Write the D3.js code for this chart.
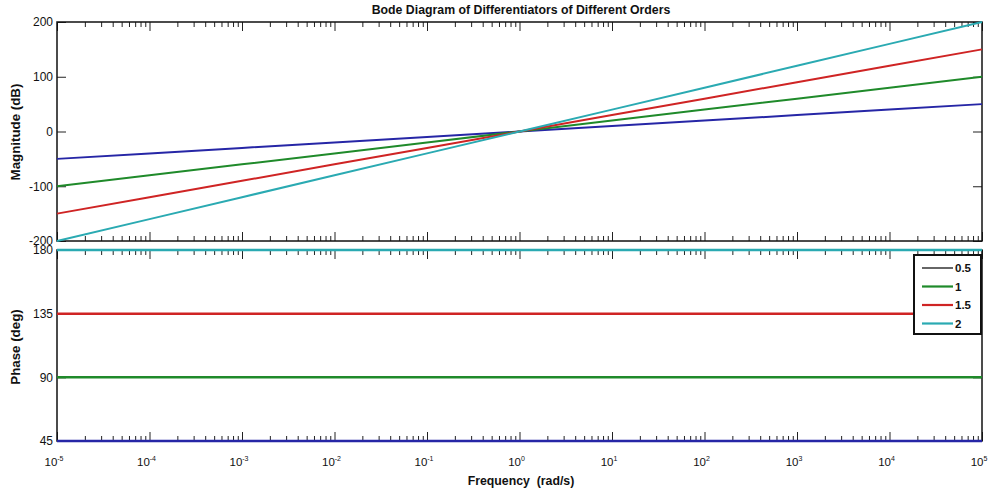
<!DOCTYPE html>
<html>
<head>
<meta charset="utf-8">
<script src="https://cdn.jsdelivr.net/npm/d3@7"></script>
<style>
  html, body { margin: 0; padding: 0; background: #fff; }
  svg { display: block; font-family: "Liberation Sans", Arial, sans-serif; }
</style>
</head>
<body>
<svg id="chart" width="990" height="494"></svg>
<script>
// ---- data ----
const orders = ["0.5", "1", "1.5", "2"];
const frequencies = [1e-5, 1e-4, 1e-3, 1e-2, 1e-1, 1e0, 1e1, 1e2, 1e3, 1e4, 1e5];
const magOrder05 = [-50, -40, -30, -20, -10, 0, 10, 20, 30, 40, 50];
const magOrder1  = [-100, -80, -60, -40, -20, 0, 20, 40, 60, 80, 100];
const magOrder15 = [-150, -120, -90, -60, -30, 0, 30, 60, 90, 120, 150];
const magOrder2  = [-200, -160, -120, -80, -40, 0, 40, 80, 120, 160, 200];
const phaseValues = [45, 90, 135, 180];
const magTicks = [-200, -100, 0, 100, 200];
const phaseTicks = [45, 90, 135, 180];
const decadeExponents = [-5, -4, -3, -2, -1, 0, 1, 2, 3, 4, 5];

const lineColors = ["#2626a6", "#1f8a2a", "#cf2424", "#2aaab2"];
const legendColors = ["#000000", "#1f8a2a", "#cf2424", "#2aaab2"];
const magSeries = [magOrder05, magOrder1, magOrder15, magOrder2];

const svg = d3.select("#chart");
const L = 57, R = 982;
const magTop = 22, magBot = 241, phTop = 250, phBot = 441;

const x = d3.scaleLog().domain([1e-5, 1e5]).range([L, R]);
const yMag = d3.scaleLinear().domain([-200, 200]).range([magBot, magTop]);
const yPh = d3.scaleLinear().domain([45, 180]).range([phBot, phTop]);

const majorX = decadeExponents.map(e => Math.pow(10, e));
const minorX = [];
decadeExponents.slice(0, -1).forEach(e => { for (let k = 2; k <= 9; k++) minorX.push(k * Math.pow(10, e)); });

function panel(yScale, top, bot, ticks) {
  const g = svg.append("g");
  g.append("g").attr("transform", `translate(0,${top})`)
    .call(d3.axisTop(x).tickValues(minorX).tickSize(-5).tickFormat(""));
  g.append("g").attr("transform", `translate(0,${bot})`)
    .call(d3.axisBottom(x).tickValues(minorX).tickSize(-5).tickFormat(""));
  g.append("g").attr("transform", `translate(0,${top})`)
    .call(d3.axisTop(x).tickValues(majorX).tickSize(-9).tickFormat(""));
  g.append("g").attr("transform", `translate(0,${bot})`)
    .call(d3.axisBottom(x).tickValues(majorX).tickSize(-9).tickFormat(""));
  g.append("g").attr("transform", `translate(${L},0)`)
    .call(d3.axisLeft(yScale).tickValues(ticks).tickSize(-9).tickPadding(4).tickFormat(d => String(d)))
    .call(a => a.selectAll("text").attr("font-size", 12).attr("fill", "#111").attr("font-family", "'Liberation Sans', Arial, sans-serif"));
  g.append("g").attr("transform", `translate(${R},0)`)
    .call(d3.axisRight(yScale).tickValues(ticks).tickSize(-9).tickFormat(""));
  g.selectAll(".domain").remove();
  g.selectAll(".tick line").attr("stroke", "#222").attr("stroke-width", 1);
  g.append("rect").attr("x", L).attr("y", top).attr("width", R - L).attr("height", bot - top)
    .attr("fill", "none").attr("stroke", "#111").attr("stroke-width", 1.5);
  return g;
}

panel(yMag, magTop, magBot, magTicks);
panel(yPh, phTop, phBot, phaseTicks);

// magnitude lines
const lineMag = d3.line().x((d, i) => x(frequencies[i])).y(d => yMag(d));
magSeries.forEach((s, i) => {
  svg.append("path").datum(s).attr("d", lineMag)
    .attr("fill", "none").attr("stroke", lineColors[i]).attr("stroke-width", 2);
});

// phase lines
phaseValues.forEach((p, i) => {
  svg.append("path")
    .datum(frequencies.map(f => [f, p]))
    .attr("d", d3.line().x(d => x(d[0])).y(d => yPh(d[1])))
    .attr("fill", "none").attr("stroke", lineColors[i]).attr("stroke-width", 2.5);
});

// x tick labels (10^n)
const xl = svg.append("g");
decadeExponents.forEach(e => {
  const t = xl.append("text").attr("x", x(Math.pow(10, e)) - 3).attr("y", 466)
    .attr("text-anchor", "middle").attr("font-size", 11.5).attr("fill", "#111");
  t.append("tspan").text("10");
  t.append("tspan").text(String(e).replace("\u2212", "-")).attr("font-size", 7).attr("dy", -5);
});

// titles
svg.append("text").attr("x", 521).attr("y", 14).attr("text-anchor", "middle")
  .attr("font-size", 12.3).attr("font-weight", "bold").attr("fill", "#111")
  .text("Bode Diagram of Differentiators of Different Orders");
svg.append("text").attr("x", 521).attr("y", 485).attr("text-anchor", "middle")
  .attr("font-size", 12.3).attr("font-weight", "bold").attr("fill", "#111")
  .attr("xml:space", "preserve").style("white-space", "pre")
  .text("Frequency  (rad/s)");
svg.append("text").attr("transform", "translate(20,132) rotate(-90)").attr("text-anchor", "middle")
  .attr("font-size", 13.3).attr("font-weight", "bold").attr("fill", "#111")
  .text("Magnitude (dB)");
svg.append("text").attr("transform", "translate(20,347) rotate(-90)").attr("text-anchor", "middle")
  .attr("font-size", 13.3).attr("font-weight", "bold").attr("fill", "#111")
  .text("Phase (deg)");

// legend
const lg = svg.append("g");
lg.append("rect").attr("x", 914).attr("y", 255).attr("width", 67).attr("height", 79)
  .attr("fill", "#fff").attr("stroke", "#111").attr("stroke-width", 2);
orders.forEach((o, i) => {
  const yy = 268 + i * 18.5;
  lg.append("line").attr("x1", 922).attr("x2", 953).attr("y1", yy).attr("y2", yy)
    .attr("stroke", legendColors[i]).attr("stroke-width", i === 0 ? 1.2 : 2.2);
  lg.append("text").attr("x", 955).attr("y", yy + 4).attr("font-size", 11.5)
    .attr("font-weight", "bold").attr("fill", "#111").text(o);
});
</script>
</body>
</html>
